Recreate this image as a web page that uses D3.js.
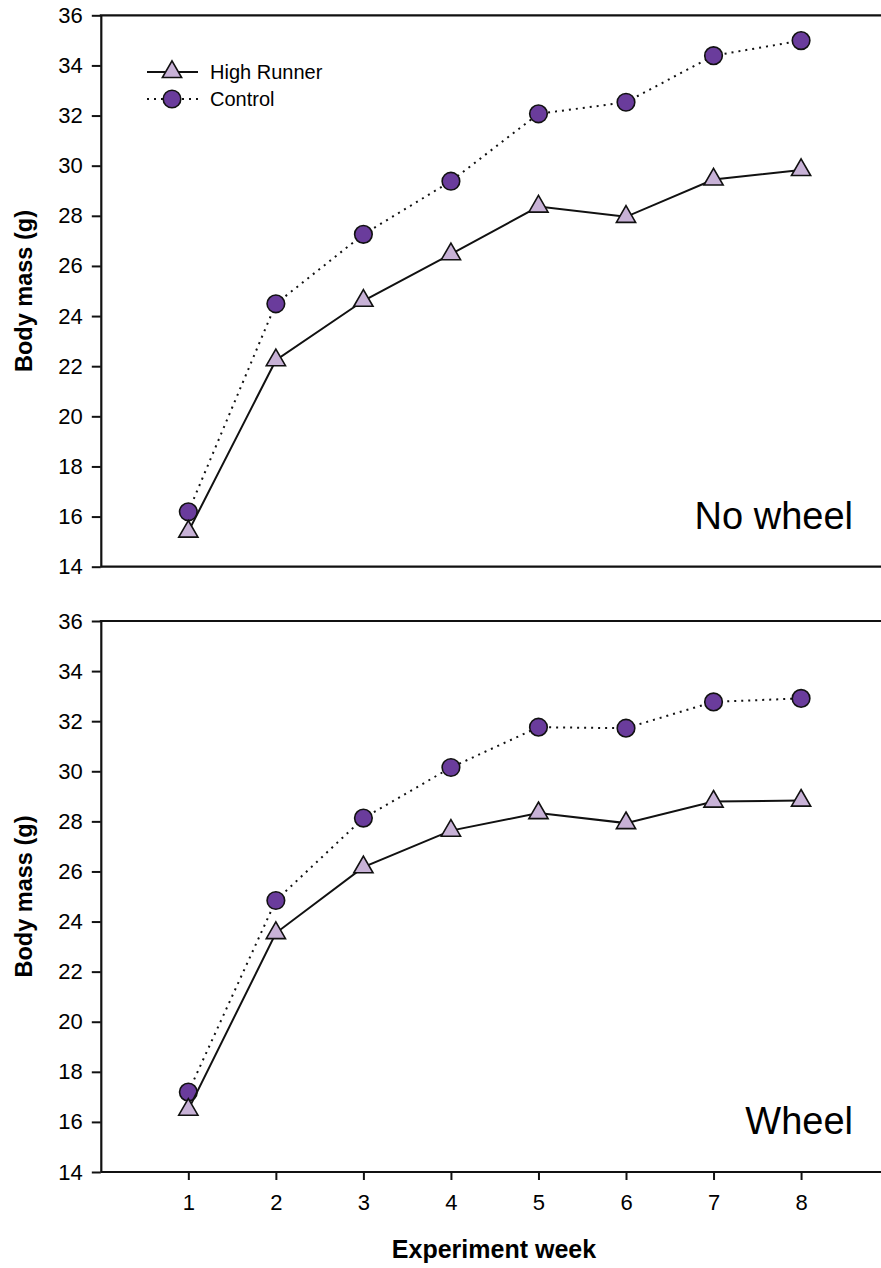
<!DOCTYPE html>
<html>
<head>
<meta charset="utf-8">
<script src="https://cdn.jsdelivr.net/npm/d3@7/dist/d3.min.js"></script>
<style>
  html, body { margin: 0; padding: 0; background: #fff; }
  svg { display: block; }
  text { font-family: "Liberation Sans", Arial, sans-serif; fill: #000; }
</style>
</head>
<body>
<svg id="chart" width="881" height="1268"></svg>
<script>
// Weekly body mass (g) for High Runner and Control mice, housed without or with wheels
const weeks = [1, 2, 3, 4, 5, 6, 7, 8];
const noWheelHighRunner = [15.40, 22.24, 24.61, 26.47, 28.37, 27.96, 29.45, 29.83];
const noWheelControl    = [16.19, 24.49, 27.26, 29.38, 32.07, 32.53, 34.39, 34.99];
const wheelHighRunner   = [16.49, 23.54, 26.17, 27.63, 28.33, 27.93, 28.79, 28.83];
const wheelControl      = [17.19, 24.84, 28.13, 30.15, 31.76, 31.72, 32.77, 32.91];
const yTicks = [14, 16, 18, 20, 22, 24, 26, 28, 30, 32, 34, 36];
const seriesNames = ["High Runner", "Control"];
const panelLabels = ["No wheel", "Wheel"];

const svg = d3.select("#chart");
const font = '"Liberation Sans", Arial, sans-serif';

const x = d3.scaleLinear().domain([0, 9]).range([100.8, 888.6]);
const left = x(0);
const right = 881;

const panels = [
  { top: 15.3, bottom: 566.7, hr: noWheelHighRunner, ctl: noWheelControl, label: panelLabels[0], showX: false },
  { top: 621, bottom: 1172, hr: wheelHighRunner, ctl: wheelControl, label: panelLabels[1], showX: true }
];

const triFill = "#c8b2d7";
const circFill = "#6a3c9c";
const triangle = d3.symbol().type(d3.symbolTriangle).size(160);

panels.forEach((p, i) => {
  const y = d3.scaleLinear().domain([14, 36]).range([p.bottom, p.top]);
  const g = svg.append("g");

  // left axis
  const ay = g.append("g")
    .attr("transform", `translate(${left},0)`)
    .call(d3.axisLeft(y).tickValues(yTicks).tickSize(9).tickSizeOuter(0).tickPadding(9).tickFormat(d3.format("d")));
  ay.selectAll("text").style("font-size", "22px").style("font-family", font);

  // bottom axis
  const ax = g.append("g")
    .attr("transform", `translate(0,${p.bottom})`)
    .call(d3.axisBottom(x).tickValues(p.showX ? weeks : []).tickSize(8).tickSizeOuter(0).tickPadding(14).tickFormat(d3.format("d")));
  ax.select(".domain").attr("d", `M${left},0H${right}`);
  ax.selectAll("text").style("font-size", "22px").style("font-family", font);

  [ay, ax].forEach(a => {
    a.selectAll(".domain").attr("stroke", "#111").attr("stroke-width", 2.2);
    a.selectAll(".tick line").attr("stroke", "#111").attr("stroke-width", 2);
  });

  // top frame line
  g.append("line")
    .attr("x1", left - 1).attr("x2", right)
    .attr("y1", p.top).attr("y2", p.top)
    .attr("stroke", "#111").attr("stroke-width", 2.2);

  const line = d3.line().x((d, j) => x(weeks[j])).y(d => y(d));

  // Control: dotted line with filled circles
  g.append("path").datum(p.ctl)
    .attr("d", line).attr("fill", "none")
    .attr("stroke", "#111").attr("stroke-width", 2)
    .attr("stroke-dasharray", "2,5");
  g.selectAll(".ctl").data(p.ctl).enter().append("circle")
    .attr("cx", (d, j) => x(weeks[j])).attr("cy", d => y(d)).attr("r", 8.8)
    .attr("fill", circFill).attr("stroke", "#111").attr("stroke-width", 1.6);

  // High Runner: solid line with triangles
  g.append("path").datum(p.hr)
    .attr("d", line).attr("fill", "none")
    .attr("stroke", "#111").attr("stroke-width", 2);
  g.selectAll(".hr").data(p.hr).enter().append("path")
    .attr("d", triangle)
    .attr("transform", (d, j) => `translate(${x(weeks[j])},${y(d)})`)
    .attr("fill", triFill).attr("stroke", "#111").attr("stroke-width", 1.6);

  // panel label
  g.append("text")
    .attr("x", 853).attr("y", p.bottom - (i === 0 ? 37.7 : 38))
    .attr("text-anchor", "end")
    .style("font-size", "38px").style("font-family", font)
    .text(p.label);

  // y axis title
  g.append("text")
    .attr("transform", `translate(32,${(p.top + p.bottom) / 2}) rotate(-90)`)
    .attr("text-anchor", "middle")
    .style("font-size", "23.5px").style("font-weight", "bold").style("font-family", font)
    .text("Body mass (g)");
});

// legend
const lg = svg.append("g");
const legendRows = [
  { name: seriesNames[0], y: 72, dash: null, marker: "tri" },
  { name: seriesNames[1], y: 99, dash: "2,5", marker: "circ" }
];
legendRows.forEach(r => {
  lg.append("line").attr("x1", 147).attr("x2", 198).attr("y1", r.y).attr("y2", r.y)
    .attr("stroke", "#111").attr("stroke-width", 2)
    .attr("stroke-dasharray", r.dash);
  if (r.marker === "tri") {
    lg.append("path").attr("d", triangle).attr("transform", `translate(172,${r.y})`)
      .attr("fill", triFill).attr("stroke", "#111").attr("stroke-width", 1.6);
  } else {
    lg.append("circle").attr("cx", 172).attr("cy", r.y).attr("r", 8.8)
      .attr("fill", circFill).attr("stroke", "#111").attr("stroke-width", 1.6);
  }
  lg.append("text").attr("x", 210).attr("y", r.y + 7)
    .style("font-size", "20px").style("font-family", font)
    .text(r.name);
});

// x axis title
svg.append("text")
  .attr("x", 494).attr("y", 1258)
  .attr("text-anchor", "middle")
  .style("font-size", "25px").style("font-weight", "bold").style("font-family", font)
  .text("Experiment week");
</script>
</body>
</html>
